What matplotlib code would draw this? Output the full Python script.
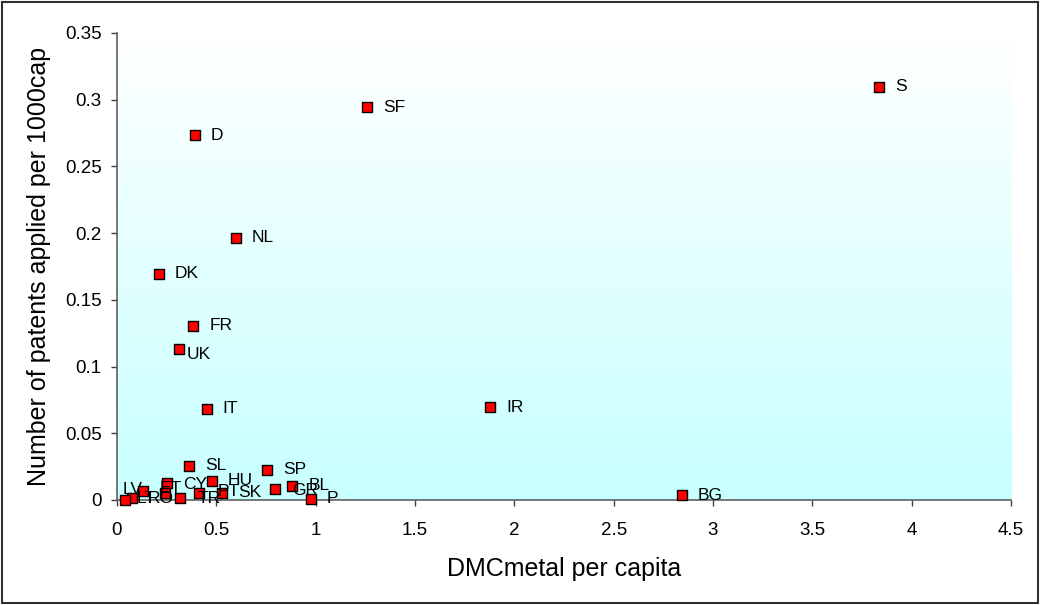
import numpy as np
import matplotlib
matplotlib.use('Agg')
import matplotlib.pyplot as plt
from matplotlib.patches import Rectangle

plt.rcParams['font.family'] = ['Liberation Sans', 'DejaVu Sans']

# data
countries = ['S', 'SF', 'D', 'NL', 'DK', 'FR', 'UK', 'IT', 'IR', 'SL', 'SP', 'HU',
             'CY', 'BL', 'GR', 'PT', 'SK', 'ET', 'LV', 'RO', 'LT', 'TR', 'P', 'BG']
dmc_metal = [3.835, 1.260, 0.391, 0.598, 0.210, 0.384, 0.311, 0.451, 1.879, 0.361, 0.755, 0.477,
             0.250, 0.883, 0.796, 0.414, 0.527, 0.242, 0.132, 0.074, 0.040, 0.317, 0.976, 2.842]
patents = [0.3095, 0.2942, 0.2731, 0.1964, 0.1695, 0.1304, 0.1128, 0.0682, 0.0694, 0.0255, 0.0225, 0.0144,
           0.0125, 0.0107, 0.0081, 0.0052, 0.0055, 0.0050, 0.0067, 0.0017, 0.0003, 0.0017, 0.0009, 0.0034]
x_ticks = [0, 0.5, 1, 1.5, 2, 2.5, 3, 3.5, 4, 4.5]
y_ticks = [0, 0.05, 0.1, 0.15, 0.2, 0.25, 0.3, 0.35]

# label offsets in pixels (dx to text start, dy up) where labels were moved
default_off = (16, 0)
label_off = {'LT': (12, 1), 'RO': (16, -1), 'LV': (-21, 2), 'ET': (-5, 5), 'CY': (16, -1),
             'TR': (18, -1), 'PT': (18, 2), 'UK': (8, -5), 'GR': (17, -1)}

fig = plt.figure(figsize=(10.42, 6.05), dpi=100)
ax = fig.add_axes([117 / 1042, 1 - 500 / 605, (1011 - 117) / 1042, (500 - 32.8) / 605])

# white-to-cyan gradient background
grad = np.linspace(0, 1, 256).reshape(-1, 1)
top = np.array([1.0, 1.0, 1.0])
bottom = np.array([0.78, 1.0, 1.0])
img = top + (bottom - top) * grad[..., None]
ax.imshow(img, extent=[0, 1, 0, 1], transform=ax.transAxes, aspect='auto', zorder=0, origin='upper')

ax.scatter(dmc_metal, patents, marker='s', s=42, c='#ff0000', edgecolors='black',
           linewidths=1, zorder=3, clip_on=False)

for name, x, y in zip(countries, dmc_metal, patents):
    dx, dy = label_off.get(name, default_off)
    ax.annotate(name, (x, y), xytext=(dx * 0.72, dy * 0.72), textcoords='offset points',
                ha='left', va='center', fontsize=12.5, color='black', zorder=4)

ax.set_xlim(0, 4.5)
ax.set_ylim(0, 0.35)
ax.set_xticks(x_ticks)
ax.set_xticklabels([f'{t:g}' for t in x_ticks])
ax.set_yticks(y_ticks)
ax.set_yticklabels([f'{t:g}' for t in y_ticks])
ax.tick_params(axis='x', direction='out', length=4.5, width=1, color='#404040', pad=11, labelsize=13.5)
ax.tick_params(axis='y', direction='out', length=4.5, width=1, color='#404040', pad=6.5, labelsize=13.5)

for side in ['top', 'right']:
    ax.spines[side].set_visible(False)
for side in ['left', 'bottom']:
    ax.spines[side].set_color('#606060')
    ax.spines[side].set_linewidth(1.2)

ax.set_xlabel('DMCmetal per capita', fontsize=18)
ax.set_ylabel('Number of patents applied per 1000cap', fontsize=18)
ax.xaxis.set_label_coords(0.5, (500 - 569) / (500 - 32.8))
ax.yaxis.set_label_coords((39 - 117) / (1011 - 117), 0.5)
ax.xaxis.label.set_va('center')
ax.yaxis.label.set_va('center')

# outer frame round the chart
fig.patches.append(Rectangle((0.002, 0.003), 0.994, 0.994, transform=fig.transFigure,
                             fill=False, edgecolor='#303030', linewidth=1.5))

fig.savefig('out.png', dpi=100)
